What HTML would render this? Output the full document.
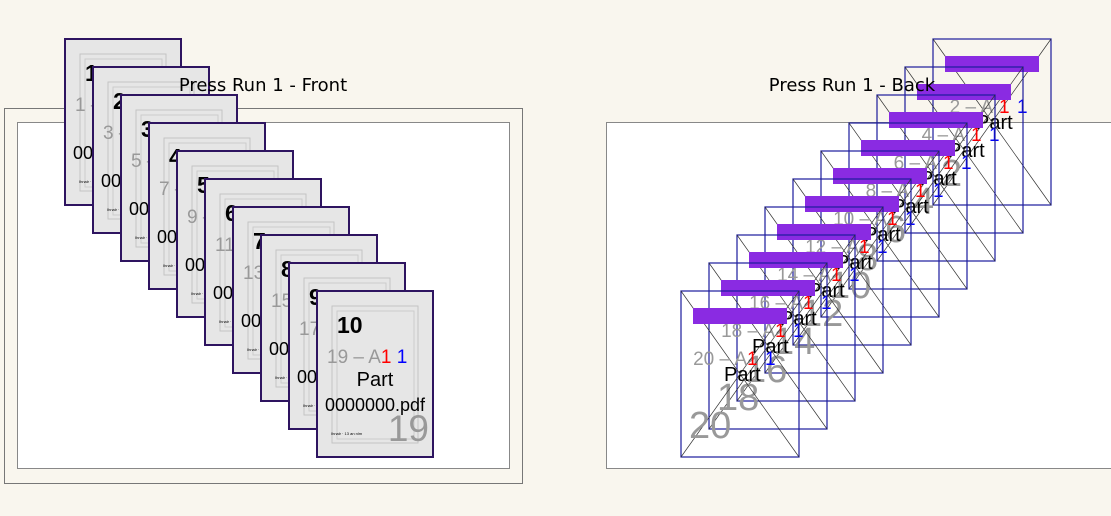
<!DOCTYPE html>
<html><head><meta charset="utf-8"><style>
html,body{margin:0;padding:0;background:#f9f6ee;}
svg{display:block;}
.b{font:bold 23px "Liberation Sans",sans-serif;fill:#000}
.l{font:19px "Liberation Sans",sans-serif;fill:#999}
.p{font:20px "Liberation Sans",sans-serif;fill:#000;text-anchor:middle}
.f{font:18px "Liberation Sans",sans-serif;fill:#000;text-anchor:middle}
.n{font:37px "Liberation Sans",sans-serif;fill:#999;text-anchor:end}
.t{font:4px "Liberation Sans",sans-serif;fill:#000}
.p2{font:20px "Liberation Sans",sans-serif;fill:#000}
.n2{font:38px "Liberation Sans",sans-serif;fill:#999}
.l2{font:19px "Liberation Sans",sans-serif;fill:#999;text-anchor:end}
.r{font:19px "Liberation Sans",sans-serif;fill:red}
.u{font:19px "Liberation Sans",sans-serif;fill:blue}
.ti{font:18px "DejaVu Sans",sans-serif;fill:#000;text-anchor:middle}
</style></head><body>
<svg width="1111" height="516" viewBox="0 0 1111 516" xmlns="http://www.w3.org/2000/svg">
<defs>
<g id="fp"><rect width="116" height="166" fill="#e6e6e6" stroke="#2e1460" stroke-width="2"/><rect x="15" y="15" width="86" height="137" fill="none" stroke="#c4c4c4"/><rect x="20" y="20" width="77" height="128" fill="none" stroke="#cccccc"/><text x="58" y="95" class="p">Part</text><text x="58" y="120" class="f">0000000.pdf</text><text x="14" y="144" class="t">Ihnalr · 13 an nlm</text></g>
<g id="bp"><rect width="118" height="166" fill="none" stroke="#1c1c9c" stroke-width="1.2"/><path d="M0 0L118 166M118 0L0 166" stroke="#333" stroke-width=".7"/><text x="43" y="90" class="p2">Part</text><text x="66" y="74" class="r">1</text><text x="84" y="74" class="u">1</text></g>
</defs>
<rect x="4.5" y="108.5" width="518" height="375" fill="none" stroke="#777"/>
<rect x="17.5" y="122.5" width="492" height="346" fill="#fff" stroke="#888"/>
<rect x="606.5" y="122.5" width="520" height="346" fill="#fff" stroke="#888"/>

<g transform="translate(65,39)"><use href="#fp"/><text x="20" y="42" class="b">1</text><text x="10" y="72" class="l">1 – A<tspan fill="red">1</tspan> <tspan fill="blue">1</tspan></text><text x="112" y="150" class="n">1</text></g>
<g transform="translate(93,67)"><use href="#fp"/><text x="20" y="42" class="b">2</text><text x="10" y="72" class="l">3 – A<tspan fill="red">1</tspan> <tspan fill="blue">1</tspan></text><text x="112" y="150" class="n">3</text></g>
<g transform="translate(121,95)"><use href="#fp"/><text x="20" y="42" class="b">3</text><text x="10" y="72" class="l">5 – A<tspan fill="red">1</tspan> <tspan fill="blue">1</tspan></text><text x="112" y="150" class="n">5</text></g>
<g transform="translate(149,123)"><use href="#fp"/><text x="20" y="42" class="b">4</text><text x="10" y="72" class="l">7 – A<tspan fill="red">1</tspan> <tspan fill="blue">1</tspan></text><text x="112" y="150" class="n">7</text></g>
<g transform="translate(177,151)"><use href="#fp"/><text x="20" y="42" class="b">5</text><text x="10" y="72" class="l">9 – A<tspan fill="red">1</tspan> <tspan fill="blue">1</tspan></text><text x="112" y="150" class="n">9</text></g>
<g transform="translate(205,179)"><use href="#fp"/><text x="20" y="42" class="b">6</text><text x="10" y="72" class="l">11 – A<tspan fill="red">1</tspan> <tspan fill="blue">1</tspan></text><text x="112" y="150" class="n">11</text></g>
<g transform="translate(233,207)"><use href="#fp"/><text x="20" y="42" class="b">7</text><text x="10" y="72" class="l">13 – A<tspan fill="red">1</tspan> <tspan fill="blue">1</tspan></text><text x="112" y="150" class="n">13</text></g>
<g transform="translate(261,235)"><use href="#fp"/><text x="20" y="42" class="b">8</text><text x="10" y="72" class="l">15 – A<tspan fill="red">1</tspan> <tspan fill="blue">1</tspan></text><text x="112" y="150" class="n">15</text></g>
<g transform="translate(289,263)"><use href="#fp"/><text x="20" y="42" class="b">9</text><text x="10" y="72" class="l">17 – A<tspan fill="red">1</tspan> <tspan fill="blue">1</tspan></text><text x="112" y="150" class="n">17</text></g>
<g transform="translate(317,291)"><use href="#fp"/><text x="20" y="42" class="b">10</text><text x="10" y="72" class="l">19 – A<tspan fill="red">1</tspan> <tspan fill="blue">1</tspan></text><text x="112" y="150" class="n">19</text></g>

<g transform="translate(933,39)"><use href="#bp"/><text x="60" y="74" class="l2">2 – A</text><text x="8" y="147" class="n2">2</text><rect x="12" y="17" width="94" height="16" fill="#8a2be2"/></g>
<g transform="translate(905,67)"><use href="#bp"/><text x="60" y="74" class="l2">4 – A</text><text x="8" y="147" class="n2">4</text><rect x="12" y="17" width="94" height="16" fill="#8a2be2"/></g>
<g transform="translate(877,95)"><use href="#bp"/><text x="60" y="74" class="l2">6 – A</text><text x="8" y="147" class="n2">6</text><rect x="12" y="17" width="94" height="16" fill="#8a2be2"/></g>
<g transform="translate(849,123)"><use href="#bp"/><text x="60" y="74" class="l2">8 – A</text><text x="8" y="147" class="n2">8</text><rect x="12" y="17" width="94" height="16" fill="#8a2be2"/></g>
<g transform="translate(821,151)"><use href="#bp"/><text x="66" y="74" class="l2">10 – A</text><text x="8" y="147" class="n2">10</text><rect x="12" y="17" width="94" height="16" fill="#8a2be2"/></g>
<g transform="translate(793,179)"><use href="#bp"/><text x="66" y="74" class="l2">12 – A</text><text x="8" y="147" class="n2">12</text><rect x="12" y="17" width="94" height="16" fill="#8a2be2"/></g>
<g transform="translate(765,207)"><use href="#bp"/><text x="66" y="74" class="l2">14 – A</text><text x="8" y="147" class="n2">14</text><rect x="12" y="17" width="94" height="16" fill="#8a2be2"/></g>
<g transform="translate(737,235)"><use href="#bp"/><text x="66" y="74" class="l2">16 – A</text><text x="8" y="147" class="n2">16</text><rect x="12" y="17" width="94" height="16" fill="#8a2be2"/></g>
<g transform="translate(709,263)"><use href="#bp"/><text x="66" y="74" class="l2">18 – A</text><text x="8" y="147" class="n2">18</text><rect x="12" y="17" width="94" height="16" fill="#8a2be2"/></g>
<g transform="translate(681,291)"><use href="#bp"/><text x="66" y="74" class="l2">20 – A</text><text x="8" y="147" class="n2">20</text><rect x="12" y="17" width="94" height="16" fill="#8a2be2"/></g>

<text x="263" y="91" class="ti">Press Run 1 - Front</text>
<text x="852" y="91" class="ti">Press Run 1 - Back</text>
</svg>
</body></html>
